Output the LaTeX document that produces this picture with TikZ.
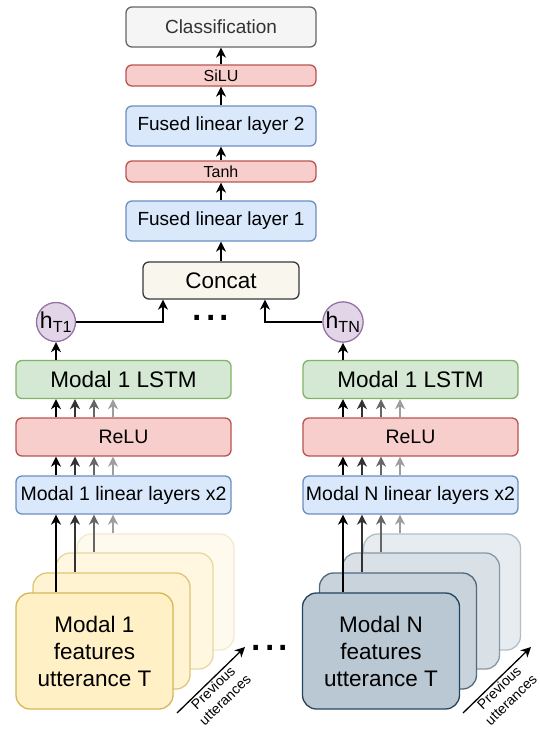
\documentclass[tikz,border=0pt]{standalone}
\usepackage{fontspec}
\setmainfont{Liberation Sans}
\usetikzlibrary{positioning,arrows.meta}

\definecolor{grayfill}{HTML}{F5F5F5}
\definecolor{grayline}{HTML}{666666}
\definecolor{redfill}{HTML}{F8CECC}
\definecolor{redline}{HTML}{B85450}
\definecolor{bluefill}{HTML}{DAE8FC}
\definecolor{blueline}{HTML}{6C8EBF}
\definecolor{greenfill}{HTML}{D5E8D4}
\definecolor{greenline}{HTML}{82B366}
\definecolor{purplefill}{HTML}{E1D5E7}
\definecolor{purpleline}{HTML}{9673A6}
\definecolor{concatfill}{HTML}{F9F7ED}
\definecolor{concatline}{HTML}{36393D}
\definecolor{yellowfill}{HTML}{FFF0C6}
\definecolor{yellowline}{HTML}{D6B656}
\definecolor{slatefill}{HTML}{BAC8D3}
\definecolor{slateline}{HTML}{23445D}

\tikzset{
  box/.style={rectangle, rounded corners=6pt, draw, line width=1.3pt, inner sep=0pt, align=center},
  toplayer/.style={box, minimum width=190pt, minimum height=40pt, font=\fontsize{19}{23}\selectfont},
  actlayer/.style={box, minimum width=190pt, minimum height=21pt, fill=redfill, draw=redline, font=\fontsize{16}{19}\selectfont},
  collayer/.style={box, minimum width=215pt, minimum height=38pt, font=\fontsize{19.5}{23}\selectfont},
  hstate/.style={circle, draw=purpleline, fill=purplefill, line width=1.3pt, minimum size=39pt, inner sep=0pt, font=\fontsize{23}{26}\selectfont},
  featbox/.style={box, rounded corners=14pt, minimum width=157pt, minimum height=116pt, font=\fontsize{22.5}{27}\selectfont},
  arr/.style={-{Stealth[length=10pt,width=10pt,inset=3pt]}, line width=1.5pt},
  dots/.style={font=\fontsize{48}{48}\selectfont, inner sep=0pt},
  prevtext/.style={font=\fontsize{14}{17}\selectfont, align=center, inner sep=1pt}
}

\begin{document}
\begin{tikzpicture}[x=1pt,y=-1pt]
    \useasboundingbox (0,0) rectangle (540,731);

    % fused head
    \node[toplayer, fill=grayfill, draw=grayline, text=black!80] (cls) at (221,27) {Classification};
    \node[actlayer] (silu) at (221,75.5) {SiLU};
    \node[toplayer, fill=bluefill, draw=blueline] (fused2) at (221,126) {Fused linear layer 2};
    \node[actlayer] (tanh) at (221,171.5) {Tanh};
    \node[toplayer, fill=bluefill, draw=blueline] (fused1) at (221,221) {Fused linear layer 1};
    \node[box, fill=concatfill, draw=concatline, minimum width=156pt, minimum height=37pt,
          font=\fontsize{22.5}{27}\selectfont] (concat) at (221,280.5) {Concat};

    \path[arr] (concat) edge (fused1)
               (fused1) edge (tanh)
               (tanh) edge (fused2)
               (fused2) edge (silu)
               (silu) edge (cls);

    \node[dots] (dotstop) at (211,318) {...};
    \node[dots] (dotsbottom) at (270,648) {...};

    % modal 1 branch
    \node[collayer, fill=greenfill, draw=greenline, font=\fontsize{22.5}{27}\selectfont] (lstm1) at (123.5,379.5) {Modal 1 LSTM};
    \node[collayer, fill=redfill, draw=redline] (relu1) at (123.5,437) {ReLU};
    \node[collayer, fill=bluefill, draw=blueline] (lin1) at (123.5,495) {Modal 1 linear layers x2};
    \node[hstate] (hT1) at (56,322) {h\textsubscript{T1}};

    \foreach \k/\dx/\dy/\p in {3/61/59/30, 2/40/40/55, 1/17/20/80}
        \node[featbox, fill=yellowfill!\p!white, draw=yellowline!\p!white] (feat1\k) at (94.5+\dx,651-\dy) {};
    \node[featbox, fill=yellowfill, draw=yellowline] (feat10) at (94.5,651) {Modal 1\\features\\utterance T};

    % modal N branch
    \node[collayer, fill=greenfill, draw=greenline, font=\fontsize{22.5}{27}\selectfont] (lstmN) at (410.5,379.5) {Modal 1 LSTM};
    \node[collayer, fill=redfill, draw=redline] (reluN) at (410.5,437) {ReLU};
    \node[collayer, fill=bluefill, draw=blueline] (linN) at (410.5,495) {Modal N linear layers x2};
    \node[hstate] (hTN) at (343,322) {h\textsubscript{TN}};

    \foreach \k/\dx/\dy/\p in {3/61/59/35, 2/40/40/55, 1/17/20/80}
        \node[featbox, fill=slatefill!\p!white, draw=slateline!\p!white] (featN\k) at (381+\dx,651-\dy) {};
    \node[featbox, fill=slatefill, draw=slateline] (featN0) at (381,651) {Modal N\\features\\utterance T};

    % time steps going up through each branch
    \foreach \k/\c in {0/black, 1/black!80, 2/black!60, 3/black!38} {
        \coordinate (col1\k) at (56+19*\k,0);
        \coordinate (colN\k) at (343+19*\k,0);
        \draw[arr,\c] (col1\k |- feat1\k.north) -- (col1\k |- lin1.south);
        \draw[arr,\c] (col1\k |- lin1.north) -- (col1\k |- relu1.south);
        \draw[arr,\c] (col1\k |- relu1.north) -- (col1\k |- lstm1.south);
        \draw[arr,\c] (colN\k |- featN\k.north) -- (colN\k |- linN.south);
        \draw[arr,\c] (colN\k |- linN.north) -- (colN\k |- reluN.south);
        \draw[arr,\c] (colN\k |- reluN.north) -- (colN\k |- lstmN.south);
    }

    \draw[arr] (lstm1.north -| hT1) -- (hT1);
    \draw[arr] (lstmN.north -| hTN) -- (hTN);
    \draw[arr] (hT1) -| ([xshift=-58pt]concat.south);
    \draw[arr] (hTN) -| ([xshift=44pt]concat.south);

    % previous utterances
    \coordinate (prev1s) at (177,713);
    \coordinate (prev1e) at (245,647);
    \coordinate (prevNs) at (463,713);
    \coordinate (prevNe) at (531,647);
    \draw[arr, line width=1.3pt] (prev1s) -- node[sloped, below, pos=0.46, prevtext] {Previous\\utterances} (prev1e);
    \draw[arr, line width=1.3pt] (prevNs) -- node[sloped, below, pos=0.46, prevtext] {Previous\\utterances} (prevNe);
\end{tikzpicture}
\end{document}
